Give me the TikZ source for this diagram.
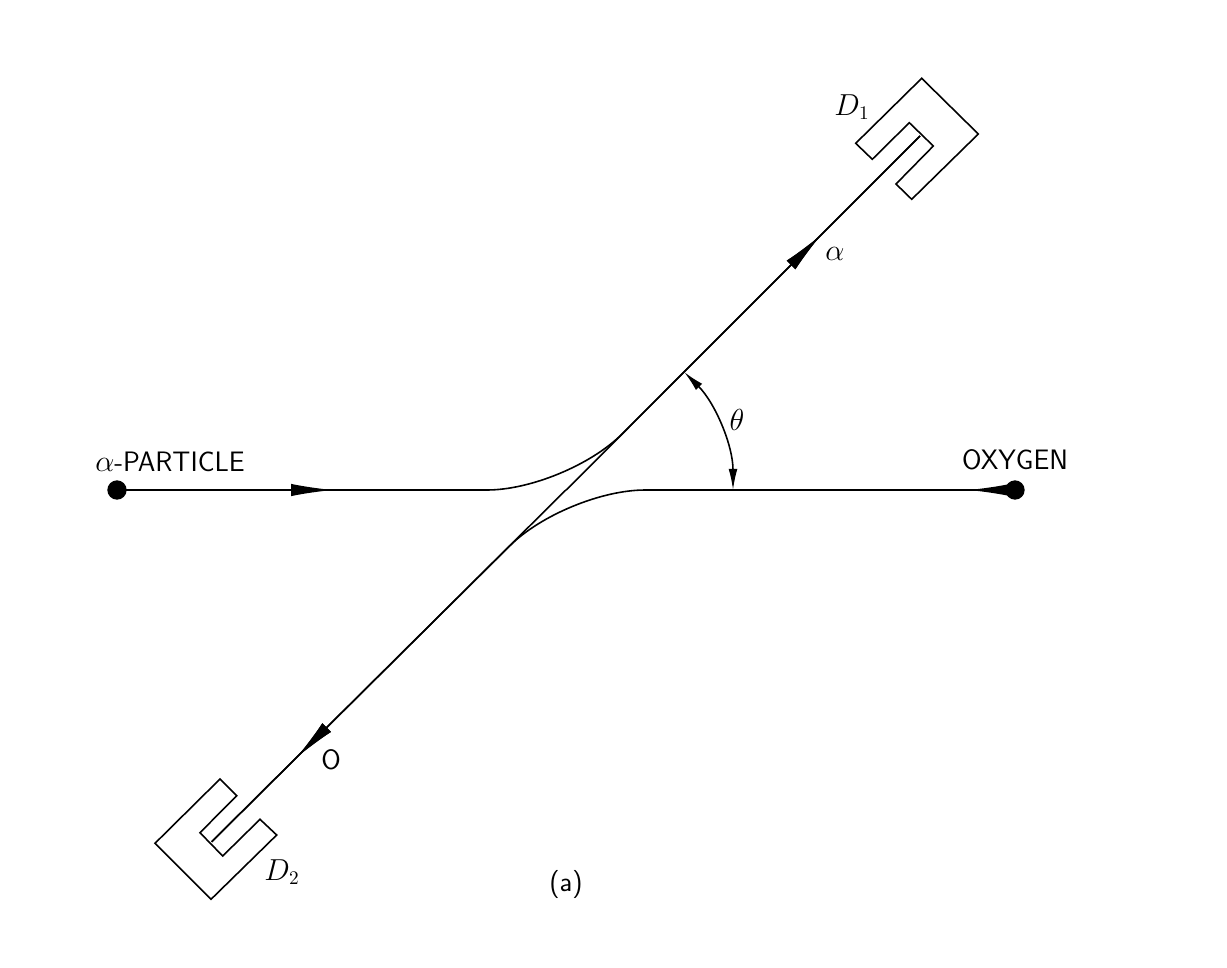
\documentclass[tikz,border=0pt]{standalone}
\usetikzlibrary{arrows.meta,decorations.markings}
\begin{document}
\begin{tikzpicture}[x=0.02cm,y=-0.02cm,line width=0.9pt,
  lbl/.style={font=\fontsize{16}{19}\selectfont\sffamily},
  dot/.style={circle,fill,inner sep=0pt,minimum size=11pt},
  arr/.style={postaction={decorate},decoration={markings,mark=at position #1 with {\arrow{Latex[length=24pt,width=7pt]}}}},
  det/.style={line width=0.9pt,line join=miter}]
\useasboundingbox (0,0) rectangle (1227,967);
\node[dot] (pa) at (117,490) {};
\node[dot] (ox) at (1015,490) {};
\coordinate (e1) at (920,136);
\coordinate (e2) at (211.7,841.7);
\coordinate (c) at (566,490);
\draw[rounded corners=45pt,arr=0.23] (pa.center) -- (c) -- (e1);
\draw[rounded corners=45pt,arr=0.05] (ox.center) -- (c) -- (e2);
\path[arr=0.72] (c) -- (e1);
\path[arr=0.76] (c) -- (e2);
\draw[arr=0.72] (c) ++(45:0.1) -- (e1);
\draw[arr=0.76] (c) ++(225:0.1) -- (e2);
\draw[{Latex[length=12pt,width=5pt]}-{Latex[length=12pt,width=5pt]}] (c) ++(-45:167) arc[start angle=-45,end angle=0,radius=167];
\draw[det] (921.7,78.3) -- (978.3,134) -- (911.7,199.3) -- (896,184) -- (933.3,146) -- (909.3,122.7) -- (872.3,159.3) -- (855.7,143.3) -- cycle;
\draw[det] (220,779) -- (236.7,795.7) -- (200,832.7) -- (222.7,856) -- (260,819.3) -- (276.7,835) -- (211,899.3) -- (155,843.3) -- cycle;
\node[lbl] (t1) at (170,462) {$\alpha$-PARTICLE};
\node[lbl] (t2) at (1015,460) {OXYGEN};
\node[lbl] (t3) at (835,254) {$\alpha$};
\node[lbl] (t4) at (331,760) {O};
\node[lbl] (t5) at (852,107) {$D_1$};
\node[lbl] (t6) at (282,872) {$D_2$};
\node[lbl] (t7) at (737,420) {$\theta$};
\node[lbl] (t8) at (566,884) {(a)};
\end{tikzpicture}
\end{document}
